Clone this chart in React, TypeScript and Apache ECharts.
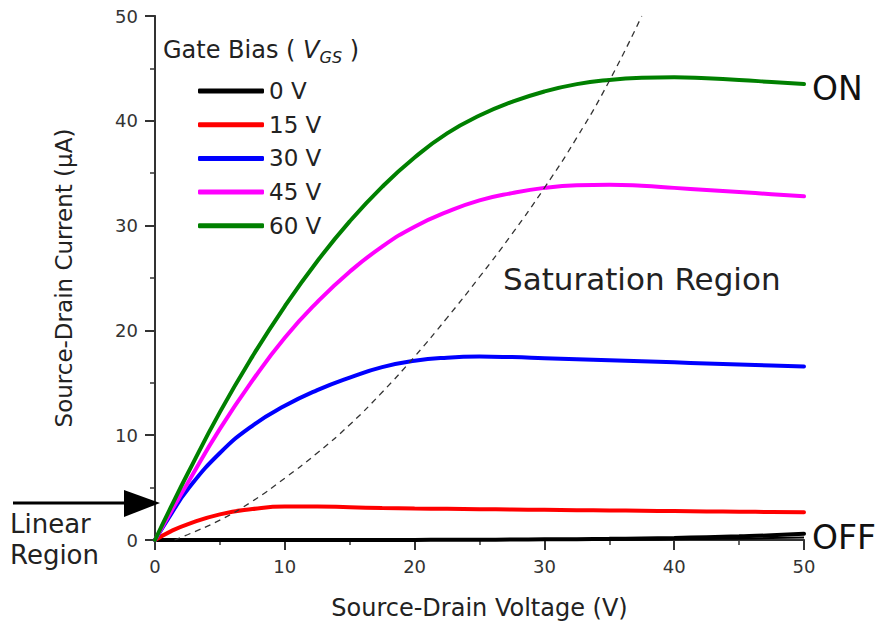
import React, { useEffect, useRef } from "react";
import * as echarts from "echarts";

const FONT = "DejaVu Sans";

const xTicks = [0, 10, 20, 30, 40, 50];
const yTicks = [0, 10, 20, 30, 40, 50];

const vds = [0, 1.25, 2.5, 5, 7.5, 10, 12.5, 15, 17.5, 20, 22.5, 25, 27.5, 30, 32.5, 35, 37.5, 40, 42.5, 45, 47.5, 50];

const gateLabels = ["0 V", "15 V", "30 V", "45 V", "60 V"];
const gateColors = ["#000000", "#ff0000", "#0000ff", "#ff00ff", "#008000"];

const id0 = [0, 0, 0, 0, 0, 0, 0, 0, 0, 0.01, 0.02, 0.03, 0.04, 0.06, 0.08, 0.11, 0.15, 0.2, 0.27, 0.35, 0.45, 0.6];
const id0b = [0, 0, 0, 0, 0, 0, 0, 0, 0, 0, 0, 0, 0, 0.01, 0.02, 0.03, 0.05, 0.07, 0.1, 0.13, 0.18, 0.25];
const id15 = [0, 0.85, 1.5, 2.45, 2.95, 3.2, 3.2, 3.12, 3.05, 3.0, 2.97, 2.94, 2.91, 2.88, 2.85, 2.82, 2.79, 2.76, 2.73, 2.7, 2.67, 2.64];
const id30 = [0, 2.5, 4.8, 8.3, 10.9, 12.8, 14.3, 15.5, 16.5, 17.1, 17.4, 17.5, 17.45, 17.35, 17.25, 17.15, 17.05, 16.95, 16.85, 16.75, 16.65, 16.55];
const id45 = [0, 2.75, 5.4, 10.6, 15.2, 19.3, 22.7, 25.6, 28.0, 29.9, 31.3, 32.4, 33.1, 33.6, 33.85, 33.9, 33.8, 33.6, 33.4, 33.2, 33.0, 32.8];
const id60 = [0, 3.2, 6.3, 12.2, 17.5, 22.3, 26.6, 30.4, 33.7, 36.5, 38.8, 40.5, 41.8, 42.8, 43.5, 43.9, 44.1, 44.15, 44.05, 43.9, 43.7, 43.5];

const satV = [1.5, 2.5, 5, 7.5, 10, 12.5, 15, 17.5, 20, 22.5, 25, 27.5, 30, 32.5, 35, 37.5];
const satI = [0, 0.5, 1.9, 3.7, 5.9, 8.3, 11.0, 14.1, 17.5, 21.2, 25.1, 29.2, 33.6, 38.4, 43.8, 50];

const curves = [id0, id15, id30, id45, id60];

export default function App() {
  const ref = useRef<HTMLDivElement>(null);
  useEffect(() => {
    if (!ref.current) return;
    const chart = echarts.init(ref.current, undefined, { renderer: "svg" });
    const pair = (ys: number[]) => vds.map((v, i) => [v, ys[i]]);
    const series: any[] = curves.map((ys, k) => ({
      name: gateLabels[k],
      type: "line",
      data: pair(ys),
      smooth: 0.5,
      symbol: "none",
      lineStyle: { color: gateColors[k], width: 4, cap: "round" },
      itemStyle: { color: gateColors[k] },
      z: 3 + k,
    }));
    series.push({
      name: "0 V",
      type: "line",
      data: pair(id0b),
      smooth: 0.5,
      symbol: "none",
      lineStyle: { color: "#000", width: 2 },
      itemStyle: { color: "#000" },
      z: 2,
    });
    series.push({
      name: "sat",
      type: "line",
      data: satV.map((v, i) => [v, satI[i]]),
      smooth: 0.5,
      symbol: "none",
      lineStyle: { color: "#333", width: 1.3, type: [6, 5] },
      z: 10,
    });

    const axisLbl = { fontFamily: FONT, fontSize: 18, color: "#333", margin: 17 };
    chart.setOption({
      animation: false,
      backgroundColor: "#fff",
      grid: { left: 155, right: 77, top: 16, bottom: 89 },
      legend: {
        data: gateLabels,
        orient: "vertical",
        left: 193,
        top: 74,
        icon: "roundRect",
        itemWidth: 66,
        itemHeight: 5,
        itemGap: 9.7,
        textStyle: { fontFamily: FONT, fontSize: 23, color: "#222", lineHeight: 24 },
        selectedMode: false,
      },
      xAxis: [
        {
          type: "value",
          min: 0,
          max: 50,
          interval: 10,
          name: "Source-Drain Voltage (V)",
          nameLocation: "middle",
          nameGap: 56,
          nameTextStyle: { fontFamily: FONT, fontSize: 24, color: "#222" },
          axisLine: { lineStyle: { color: "#333", width: 2 } },
          axisTick: { show: true, length: 10, inside: false, lineStyle: { color: "#333", width: 2 } },
          minorTick: { show: true, splitNumber: 2, length: 5, lineStyle: { color: "#333", width: 1.5 } },
          axisLabel: { ...axisLbl, formatter: (v: number) => (xTicks.includes(v) ? String(v) : "") },
          splitLine: { show: false },
        },
        {
          type: "value",
          position: "top",
          min: 0,
          max: 50,
          interval: 10,
          axisLine: { show: true, lineStyle: { color: "#333", width: 1.5 } },
          axisTick: { show: false },
          axisLabel: { show: false },
          splitLine: { show: false },
        },
      ],
      yAxis: [
        {
          type: "value",
          min: 0,
          max: 50,
          interval: 10,
          name: "Source-Drain Current (\u03bcA)",
          nameLocation: "middle",
          nameGap: 80,
          nameTextStyle: { fontFamily: FONT, fontSize: 23, color: "#222" },
          axisLine: { show: true, lineStyle: { color: "#333", width: 2 } },
          axisTick: { show: true, length: 10, inside: false, lineStyle: { color: "#333", width: 2 } },
          minorTick: { show: true, splitNumber: 2, length: 5, lineStyle: { color: "#333", width: 1.5 } },
          axisLabel: { ...axisLbl, formatter: (v: number) => (yTicks.includes(v) ? String(v) : "") },
          splitLine: { show: false },
        },
        {
          type: "value",
          position: "right",
          min: 0,
          max: 50,
          interval: 10,
          axisLine: { show: true, lineStyle: { color: "#333", width: 1.5 } },
          axisTick: { show: false },
          axisLabel: { show: false },
          splitLine: { show: false },
        },
      ],
      graphic: [
        {
          type: "text",
          left: 163,
          top: 35,
          style: {
            text: "{a|Gate Bias ( }{b|V}{c|GS}{a| )}",
            rich: {
              a: { fontFamily: FONT, fontSize: 24, fill: "#222", lineHeight: 30 },
              b: { fontFamily: FONT, fontSize: 24, fill: "#222", fontStyle: "italic", lineHeight: 30 },
              c: { fontFamily: FONT, fontSize: 16, fill: "#222", fontStyle: "italic", lineHeight: 30, padding: [14, 0, 0, 0] },
            },
          },
          z: 20,
        },
        {
          type: "text",
          left: 503,
          top: 263,
          style: { text: "Saturation Region", fontFamily: FONT, fontSize: 31, fill: "#222" },
          z: 20,
        },
        {
          type: "text",
          left: 812,
          top: 72,
          style: { text: "ON", fontFamily: FONT, fontSize: 33, fill: "#111" },
          z: 20,
        },
        {
          type: "text",
          left: 812,
          top: 521,
          style: { text: "OFF", fontFamily: FONT, fontSize: 33, fill: "#111" },
          z: 20,
        },
        {
          type: "text",
          left: 10,
          top: 511,
          style: { text: "Linear", fontFamily: FONT, fontSize: 26, lineHeight: 26, fill: "#222" },
          z: 20,
        },
        {
          type: "text",
          left: 10,
          top: 542,
          style: { text: "Region", fontFamily: FONT, fontSize: 26, lineHeight: 26, fill: "#222" },
          z: 20,
        },
        {
          type: "line",
          shape: { x1: 13, y1: 503, x2: 130, y2: 503 },
          style: { stroke: "#000", lineWidth: 3 },
          z: 20,
        },
        {
          type: "polygon",
          shape: { points: [[124, 490], [160, 503], [124, 517]] },
          style: { fill: "#000" },
          z: 20,
        },
      ],
      series,
    });
    return () => chart.dispose();
  }, []);
  return <div ref={ref} style={{ position: "fixed", left: 0, top: 0, width: 881, height: 629 }} />;
}
